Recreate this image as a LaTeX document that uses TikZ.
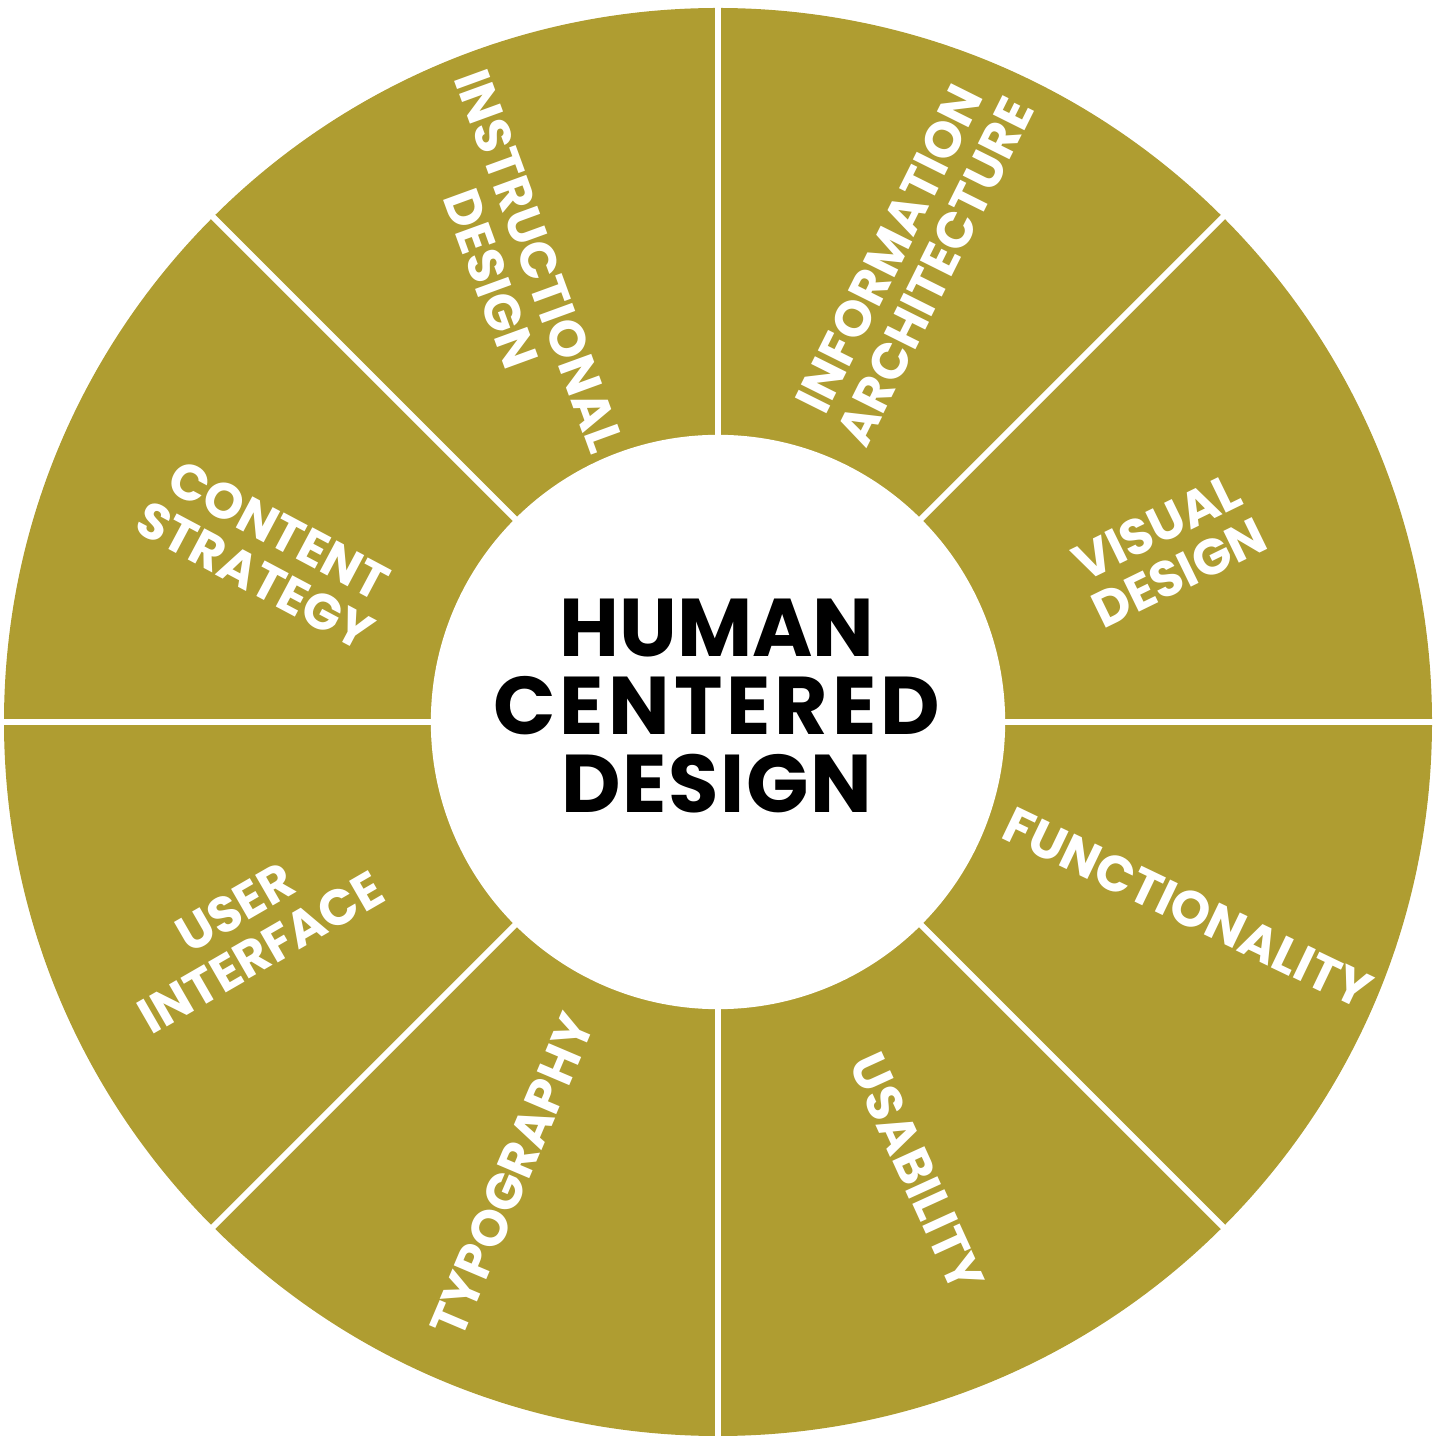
\documentclass[tikz,border=0pt]{standalone}
\usepackage{fontspec}
\setmainfont{Poppins}
\definecolor{olive}{RGB}{175,157,49}
\tikzset{
  seg/.style={line width=0.06cm, draw=white},
  lbl/.style={text=white, align=center, inner sep=0pt,
    font=\fontsize{14.3pt}{14.6pt}\selectfont\bfseries},
  hub/.style={text=black, align=center, inner sep=0pt,
    font=\fontsize{23.3pt}{22.2pt}\selectfont\bfseries}
}
\begin{document}
\begin{tikzpicture}[x=0.01cm,y=0.01cm]
\useasboundingbox (-718,-718) rectangle (722,722);
\fill[olive] (0,0) circle (714);
\coordinate (c) at (0,0);
\foreach \a in {0,45,...,315}{
  \coordinate (e\a) at (\a:716);
  \draw[seg] (c) -- (e\a);
}
\node[circle, fill=white, minimum size=5.74cm, inner sep=0pt] (hubc) at (0,0) {};
\node[hub] (title) at (-1,16) {HUMAN\\{\addfontfeature{LetterSpace=5}CENTERED}\\{\addfontfeature{LetterSpace=2}DESIGN}};
\node[lbl, rotate=-70] (instr) at (-203,452) {INSTRUCTIONAL\\DESIGN};
\node[lbl, rotate=63.5] (info) at (194,462) {INFORMATION\\ARCHITECTURE};
\node[lbl, rotate=26] (visual) at (450,172) {VISUAL\\DESIGN};
\node[lbl, rotate=-25.6] (func) at (470,-186) {FUNCTIONALITY};
\node[lbl, rotate=-65.5] (usab) at (199,-450) {USABILITY};
\node[lbl, rotate=67] (typo) at (-206,-453) {TYPOGRAPHY};
\node[lbl, rotate=30] (ui) at (-470,-208) {USER\\INTERFACE};
\node[lbl, rotate=-28] (content) at (-451,169) {CONTENT\\STRATEGY};
\end{tikzpicture}
\end{document}
